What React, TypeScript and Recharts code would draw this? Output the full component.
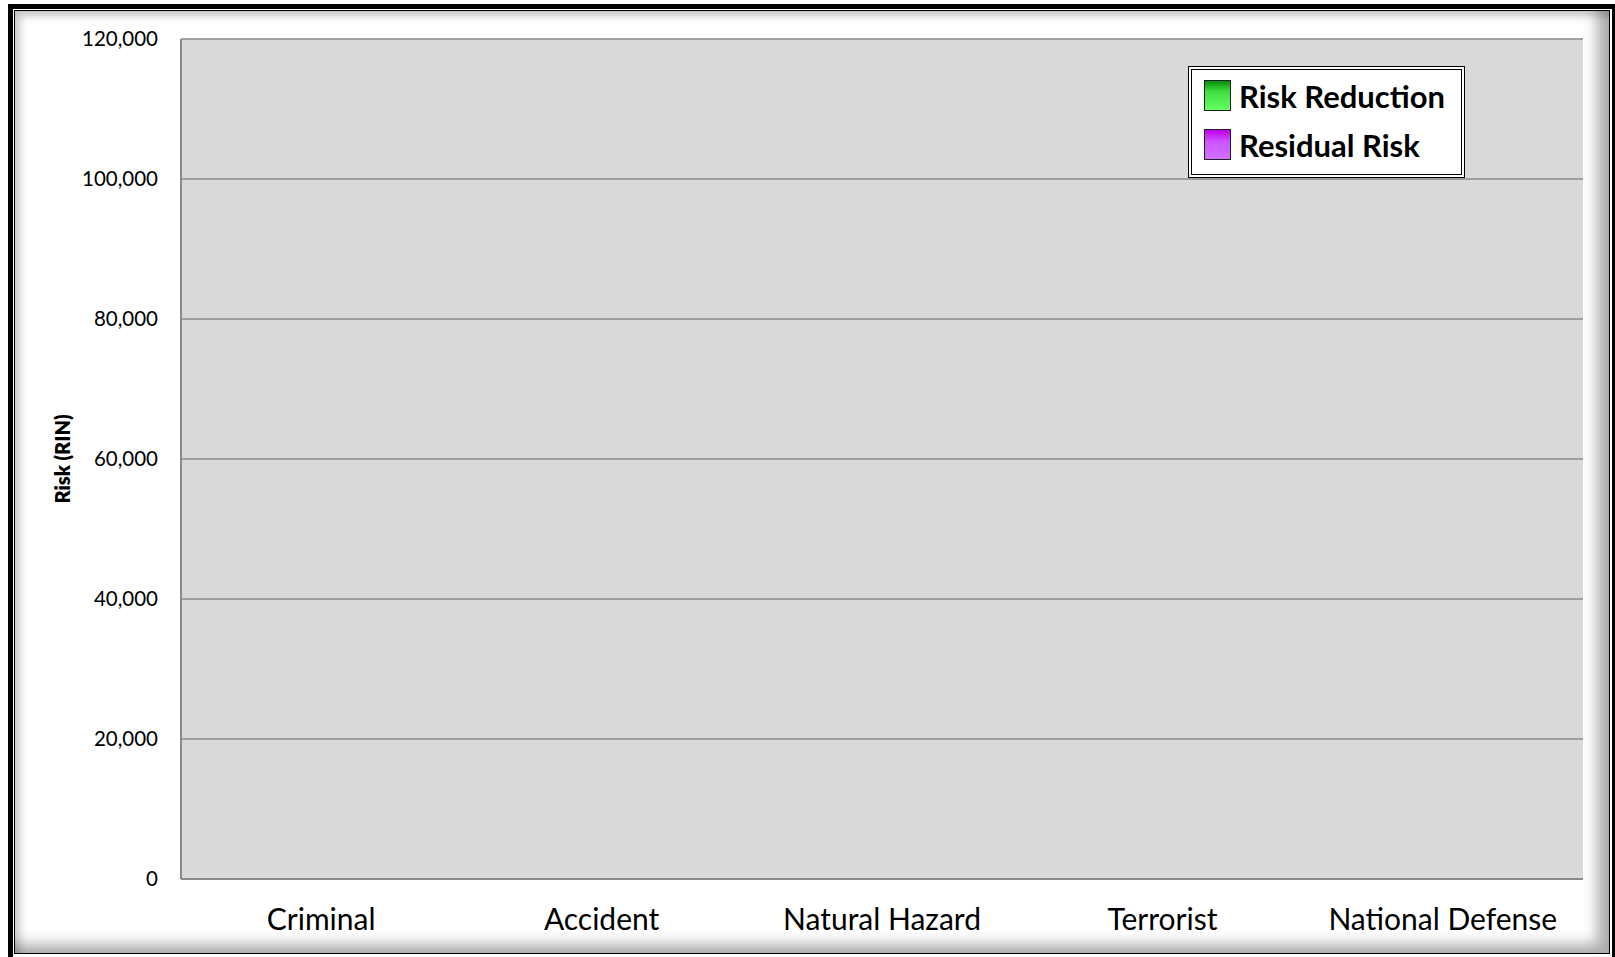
import { BarChart, Bar, XAxis, YAxis, CartesianGrid, Legend } from "recharts";

// categories along the x axis
const categories = ["Criminal", "Accident", "Natural Hazard", "Terrorist", "National Defense"];

// both series are empty in the source chart
const riskReduction = [0, 0, 0, 0, 0];
const residualRisk = [0, 0, 0, 0, 0];

const yTicks = [0, 20000, 40000, 60000, 80000, 100000, 120000];

const seriesKeys = ["riskReduction", "residualRisk"];
const seriesNames = { riskReduction: "Risk Reduction", residualRisk: "Residual Risk" };

const data = categories.map((name, i) => ({
    name,
    riskReduction: riskReduction[i],
    residualRisk: residualRisk[i],
}));

const swatch: Record<string, string> = {
    riskReduction: "linear-gradient(to bottom, #0a8a0a 0%, #3fdc3f 35%, #66ff66 100%)",
    residualRisk: "linear-gradient(to bottom, #c000f0 0%, #cc55ff 40%, #d070ff 100%)",
};

const font = "Lato, 'Open Sans', sans-serif";

function LegendBox(props: any) {
    const items = [...(props.payload || [])].sort(
        (a: any, b: any) => seriesKeys.indexOf(a.dataKey) - seriesKeys.indexOf(b.dataKey)
    );
    return (
        <div
            style={{
                width: 277,
                height: 112,
                boxSizing: "border-box",
                border: "4px double #000",
                background: "#fff",
                padding: "1px 0 0 12px",
                fontFamily: font,
                fontWeight: 700,
                fontSize: 31,
                color: "#000",
            }}
        >
            {items.map((it: any) => (
                <div key={it.dataKey} style={{ display: "flex", alignItems: "center", height: 49 }}>
                    <span
                        style={{
                            display: "inline-block",
                            width: 25,
                            height: 29,
                            border: "1px solid #222",
                            background: swatch[it.dataKey],
                            marginRight: 8,
                        }}
                    />
                    <span>{it.value}</span>
                </div>
            ))}
        </div>
    );
}

export default function App() {
    return (
        <div style={{ position: "absolute", left: 0, top: 0, width: 1615, height: 957, background: "#fff", overflow: "hidden" }}>
            {/* picture frame */}
            <div style={{ position: "absolute", left: 8, top: 4, width: 1609, height: 958, boxSizing: "border-box", border: "5px solid #000" }} />
            <div
                style={{
                    position: "absolute",
                    left: 14,
                    top: 10,
                    width: 1596,
                    height: 944,
                    boxSizing: "border-box",
                    border: "1px solid #000",
                    boxShadow: "inset -12px -9px 14px rgba(0,0,0,0.32), inset 5px 5px 8px rgba(0,0,0,0.22)",
                }}
            />
            <div style={{ position: "absolute", left: 0, top: 0 }}>
                <BarChart width={1615} height={957} data={data} margin={{ top: 39, right: 32, left: 0, bottom: 0 }}>
                    <CartesianGrid vertical={false} fill="#d9d9d9" stroke="#8a8a8a" strokeWidth={1.5} />
                    <XAxis
                        dataKey="name"
                        height={78}
                        tickLine={false}
                        tickSize={0}
                        tickMargin={30}
                        axisLine={{ stroke: "#8a8a8a", strokeWidth: 2 }}
                        tick={{ fill: "#000", fontSize: 30, fontFamily: font }}
                        interval={0}
                    />
                    <YAxis
                        width={181}
                        domain={[0, 120000]}
                        ticks={yTicks}
                        tickLine={false}
                        tickSize={0}
                        tickMargin={23}
                        axisLine={{ stroke: "#8a8a8a", strokeWidth: 2 }}
                        tick={{ fill: "#000", fontSize: 20.5, fontFamily: font }}
                        tickFormatter={(v: number) => v.toLocaleString("en-US")}
                        label={{
                            value: "Risk (RIN)",
                            angle: -90,
                            position: "insideLeft",
                            offset: 63,
                            style: { fontFamily: font, fontWeight: 800, fontSize: 20, fill: "#000", textAnchor: "middle" },
                        }}
                    />
                    <Legend
                        layout="vertical"
                        align="center"
                        verticalAlign="middle"
                        wrapperStyle={{ left: 1188, top: 66, width: 277, height: 112 }}
                        content={<LegendBox />}
                    />
                    <Bar dataKey="riskReduction" name={seriesNames.riskReduction} stackId="a" fill="#66ff66" isAnimationActive={false} />
                    <Bar dataKey="residualRisk" name={seriesNames.residualRisk} stackId="a" fill="#cc66ff" isAnimationActive={false} />
                </BarChart>
            </div>
        </div>
    );
}
